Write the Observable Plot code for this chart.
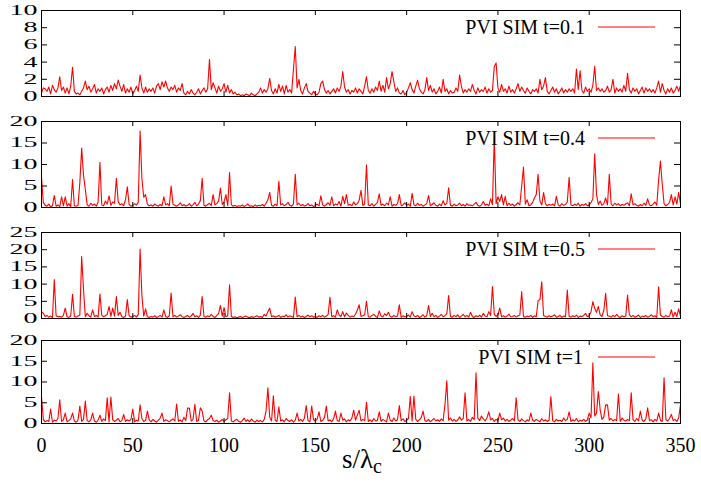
<!DOCTYPE html>
<html><head><meta charset="utf-8">
<script src="https://cdn.jsdelivr.net/npm/d3@7"></script>
<script src="https://cdn.jsdelivr.net/npm/@observablehq/plot@0.6"></script>
<style>
html,body{margin:0;padding:0;background:#fff;}
#chart{position:relative;width:701px;height:483px;overflow:hidden;background:#fff;}
#chart svg{position:absolute;left:0;}
</style></head><body><div id="chart"></div>
<script>
const xTicks = [0, 50, 100, 150, 200, 250, 300, 350];
const seriesLabels = ["PVI SIM t=0.1", "PVI SIM t=0.4", "PVI SIM t=0.5", "PVI SIM t=1"];
const yTicks1 = [0, 2, 4, 6, 8, 10];
const yTicks2 = [0, 5, 10, 15, 20];
const yTicks3 = [0, 5, 10, 15, 20, 25];
const yTicks4 = [0, 5, 10, 15, 20];

const pviT01 = [
0.4,1.0,0.9,0.6,1.1,0.3,1.3,0.8,0.5,1.0,
2.3,0.7,1.1,0.4,1.0,0.3,1.2,3.4,0.6,0.3,
0.4,0.2,0.6,1.0,1.8,0.8,1.2,0.5,0.9,1.4,
0.4,0.9,0.6,1.0,0.3,0.8,1.1,0.5,1.3,0.7,
1.5,0.9,1.9,1.2,0.6,1.4,0.4,0.9,0.5,1.1,
0.3,0.7,1.2,0.6,2.5,1.0,0.4,1.1,0.5,0.9,
0.6,1.0,0.4,1.2,1.5,0.8,1.7,1.1,1.8,1.0,
0.6,1.1,0.8,1.3,0.5,1.0,0.7,1.5,0.4,0.2,
0.6,0.3,0.8,0.4,0.2,0.5,0.9,0.3,0.7,1.0,
0.5,0.9,4.3,0.8,1.6,1.0,0.4,1.2,0.6,0.9,
1.5,0.5,1.3,0.4,0.8,0.3,0.5,0.2,0.3,0.1,
0.2,0.1,0.3,0.2,0.1,0.4,0.2,0.1,0.3,0.5,
1.0,0.4,0.8,0.5,0.9,2.1,0.7,0.3,0.9,0.4,
1.4,0.6,1.2,0.3,1.3,0.5,0.8,0.4,3.2,5.8,
1.0,2.0,0.7,0.3,1.0,1.5,0.6,0.4,0.2,0.6,
0.3,0.2,0.5,1.5,1.8,0.8,0.4,0.7,0.3,0.6,
0.9,0.4,1.0,0.6,1.2,2.9,1.1,0.5,0.8,0.3,
0.7,0.5,1.0,0.4,0.9,0.6,0.3,1.2,2.3,0.7,
0.4,0.9,0.5,1.1,0.7,1.8,0.6,1.3,0.5,2.2,
0.9,1.5,2.9,1.7,0.6,1.0,0.4,0.3,0.7,0.2,
0.5,1.0,1.6,0.8,0.4,1.2,1.9,0.9,0.5,0.3,
0.8,2.2,0.7,1.3,0.5,0.9,0.3,0.6,1.1,0.4,
2.0,0.6,0.9,0.3,0.7,0.4,0.5,1.0,0.6,2.5,
1.2,0.4,0.8,0.5,0.9,0.6,1.4,0.7,0.3,1.0,
0.5,0.8,0.6,1.1,0.4,0.9,0.5,0.7,3.5,3.9,
1.0,0.5,1.4,0.6,0.9,0.4,1.2,0.5,0.8,0.4,
0.9,1.5,0.6,1.1,0.7,0.4,1.0,0.6,0.3,0.8,
0.6,0.9,0.4,2.0,0.8,1.2,2.2,0.6,0.3,0.7,
1.1,0.5,0.9,0.3,0.6,1.0,0.4,0.8,0.5,0.9,
0.6,0.9,0.4,3.2,0.8,3.0,0.7,0.4,1.1,0.6,
0.9,0.5,1.3,3.5,0.7,1.0,0.6,0.9,0.5,0.7,
1.2,0.5,0.8,2.0,0.4,1.0,0.6,0.9,0.5,1.3,
0.6,2.7,0.8,0.4,1.0,0.6,0.9,0.3,0.7,1.1,
0.4,1.0,0.6,0.9,0.5,0.8,0.4,1.0,1.8,0.5,
1.5,0.7,0.3,0.9,0.5,1.0,0.4,0.7,1.2,0.6,
1.3];

const pviT04 = [
7.0,1.2,0.5,0.3,0.8,0.2,0.4,2.8,0.3,0.6,
0.2,2.5,0.4,2.5,0.3,0.9,0.2,6.5,0.4,0.3,
0.5,5.8,13.8,7.6,4.2,0.6,0.3,1.0,0.5,0.8,
0.3,1.2,10.5,0.6,0.4,1.5,0.8,2.7,0.5,1.3,
1.0,6.8,1.4,0.6,0.9,0.4,1.8,4.8,0.7,0.3,
0.5,0.9,0.6,1.2,17.8,6.7,2.4,3.0,0.8,0.4,
0.6,0.3,0.8,0.5,0.3,0.7,0.4,2.5,0.6,0.9,
0.4,5.0,0.8,0.5,0.3,0.6,1.1,0.4,0.7,0.3,
0.5,0.9,0.3,0.6,1.2,0.4,0.8,1.6,6.8,0.5,
0.3,0.7,1.0,0.4,3.0,0.6,0.9,1.5,4.5,0.7,
1.3,3.0,0.4,8.1,0.6,0.3,0.5,0.2,0.4,0.3,
0.6,0.2,0.5,0.8,0.3,0.4,0.2,0.6,0.3,0.5,
0.4,0.7,0.3,1.0,1.8,3.5,0.5,0.3,0.8,0.4,
6.1,0.6,0.9,0.4,0.7,1.2,0.5,0.3,0.8,7.7,
0.6,1.0,0.4,0.7,0.3,0.5,0.9,0.4,0.6,0.2,
0.5,0.8,0.4,2.7,0.6,0.3,0.7,1.1,0.5,2.5,
0.4,0.8,0.6,1.4,0.3,2.6,0.9,3.0,0.5,0.7,
0.4,1.3,0.6,0.9,1.7,4.0,0.5,0.8,9.9,0.6,
0.4,0.9,0.3,0.7,1.2,3.2,0.5,0.8,0.4,1.0,
0.6,2.5,0.3,0.7,0.5,0.9,3.0,0.4,0.6,1.1,
0.5,0.8,0.3,3.3,0.6,0.4,1.0,0.5,0.7,0.3,
0.6,0.9,2.8,0.4,0.7,1.1,0.5,0.3,0.8,0.4,
1.6,0.6,0.9,4.6,0.5,0.3,0.8,0.4,0.6,1.0,
0.4,0.7,0.3,0.9,0.5,0.6,0.4,0.8,1.2,0.5,
0.3,0.6,1.4,0.5,0.8,0.4,2.0,0.7,16.3,0.9,
2.5,1.4,3.0,0.6,2.6,0.4,1.0,0.5,0.8,0.3,
0.7,1.1,0.6,5.0,9.4,0.8,1.8,0.4,0.6,1.2,
2.2,3.0,7.7,1.5,0.6,3.5,0.9,0.4,0.7,0.5,
0.8,0.4,2.6,0.6,0.3,0.9,0.5,0.7,1.3,7.0,
0.6,0.4,0.8,0.5,1.0,0.3,0.7,0.5,0.9,0.4,
0.6,1.2,2.0,12.5,3.0,0.7,1.5,0.5,0.9,2.2,
0.6,7.7,0.8,0.4,1.0,0.6,0.9,0.4,0.7,0.5,
0.8,1.1,0.4,3.2,0.6,0.9,0.5,0.3,0.7,0.4,
1.0,0.5,2.0,0.6,0.4,0.8,1.3,0.5,6.3,10.8,
5.4,0.9,0.4,0.7,1.2,3.0,0.6,2.5,0.8,3.5,
0.9];

const pviT05 = [
2.0,1.5,0.6,0.9,0.4,0.7,0.3,11.3,0.8,0.5,
0.6,0.4,0.9,3.0,0.5,0.3,0.8,7.0,0.6,0.4,
0.7,1.0,18.0,8.6,0.5,1.5,0.8,0.4,2.5,0.6,
0.9,0.4,7.1,1.0,0.5,0.8,1.2,3.5,0.6,3.0,
0.7,6.4,0.9,1.8,0.5,0.3,0.7,5.5,0.8,0.4,
0.6,0.9,0.4,1.2,20.2,6.5,0.7,2.8,0.5,0.3,
0.6,0.4,0.8,0.3,0.5,0.9,0.4,2.5,0.6,0.3,
0.8,7.4,0.5,0.9,0.4,0.7,1.1,0.5,0.3,0.6,
0.9,0.4,0.7,1.5,0.5,0.8,0.3,1.0,6.4,0.6,
0.4,0.8,0.5,1.2,0.6,0.3,0.9,1.4,3.8,0.7,
3.2,0.5,0.8,9.8,0.6,0.3,0.5,0.2,0.4,0.6,
0.3,0.5,0.7,0.4,0.2,0.6,0.3,0.5,0.8,0.4,
0.6,0.3,1.2,0.7,2.0,3.0,0.5,0.8,0.4,0.6,
0.9,0.3,0.7,0.5,1.1,0.4,0.8,0.6,0.3,6.2,
0.5,0.9,0.4,0.7,0.3,0.6,1.0,0.5,0.8,0.4,
0.6,0.3,0.8,0.5,0.9,0.4,0.7,1.2,6.2,0.5,
0.8,0.4,2.5,1.0,0.6,2.0,0.5,1.6,0.9,0.4,
0.7,0.5,1.3,2.4,4.0,0.6,0.8,1.1,5.0,0.5,
0.4,0.9,1.2,0.6,0.3,2.2,0.7,0.5,1.4,0.8,
1.8,0.6,0.4,0.9,0.5,0.7,4.0,0.3,0.8,0.5,
0.6,1.0,0.4,2.0,0.7,0.5,0.9,0.3,0.6,1.1,
0.4,0.8,3.8,0.6,1.5,0.5,0.9,0.3,0.7,1.2,
0.5,0.8,1.4,6.7,0.6,0.4,0.9,0.5,1.1,0.3,
0.7,1.2,0.5,0.9,0.4,1.8,0.6,0.3,0.8,0.5,
1.0,0.4,1.5,0.7,0.5,2.0,0.9,9.3,1.2,0.6,
1.1,3.0,0.5,0.8,0.4,0.7,1.3,0.5,0.6,0.9,
0.4,0.8,1.0,7.8,0.6,0.4,0.7,0.5,0.9,0.3,
0.8,0.5,5.2,5.5,10.7,0.9,0.6,0.4,0.8,0.5,
0.7,1.1,0.4,0.6,0.9,0.3,0.7,0.5,8.3,0.6,
0.4,0.8,0.5,1.0,0.3,0.7,0.6,0.9,1.5,0.5,
0.8,2.0,4.9,3.0,1.8,3.5,1.0,0.6,2.4,7.3,
0.8,0.7,0.4,0.9,0.5,1.2,0.6,0.3,0.8,0.5,
0.7,6.8,1.1,0.5,0.9,0.4,0.6,1.0,0.3,0.7,
0.5,0.9,0.4,0.6,1.1,0.5,0.8,0.3,9.2,1.0,
0.6,0.4,0.9,0.5,0.7,2.5,0.4,1.8,0.6,2.8,
0.7];

const pviT1 = [
6.5,1.0,0.4,0.7,0.5,3.5,0.3,0.8,0.6,1.2,
5.7,0.5,0.9,2.5,0.4,0.7,1.1,2.5,0.6,0.3,
0.8,4.2,0.5,1.0,5.4,0.7,0.4,0.9,2.5,0.6,
0.3,0.8,2.0,0.5,1.1,0.7,6.2,0.4,6.4,0.9,
0.5,0.8,1.2,0.4,0.7,2.2,0.5,0.9,0.6,1.0,
3.5,0.4,0.8,0.6,4.5,1.2,0.5,0.7,3.0,0.9,
0.4,1.0,0.6,0.3,0.8,1.3,2.5,0.5,0.9,0.7,
0.4,0.8,1.1,0.6,4.7,0.5,0.9,0.4,1.5,0.7,
3.7,3.7,0.6,1.0,4.6,0.5,0.8,3.8,3.0,0.6,
0.4,0.9,1.2,2.0,0.7,0.5,0.8,0.3,0.6,1.0,
0.5,0.9,1.2,7.4,0.6,0.4,0.8,1.0,0.5,0.3,
0.7,1.3,0.5,0.9,0.4,1.1,0.6,0.3,0.8,0.5,
0.7,0.4,1.0,3.0,8.6,1.5,0.6,6.7,0.8,0.5,
4.0,0.6,0.9,0.4,1.2,0.7,0.5,0.9,0.3,0.8,
2.5,0.6,1.0,0.5,1.3,4.3,0.7,0.4,4.2,0.9,
0.6,1.1,2.8,0.5,0.8,1.4,4.2,0.6,0.9,0.4,
1.2,3.0,0.7,0.5,2.5,0.8,1.1,0.4,0.9,0.6,
1.3,3.2,0.8,2.0,3.2,0.6,1.0,0.7,5.1,0.5,
0.9,0.4,1.2,0.6,0.8,2.8,0.5,1.0,0.7,0.4,
2.5,0.8,0.5,1.3,0.6,0.9,4.3,0.7,1.1,0.5,
0.8,1.2,6.5,0.6,6.6,1.0,0.5,0.9,1.4,3.0,
0.7,0.5,1.0,0.4,0.8,1.2,0.6,0.9,0.5,1.1,
0.7,4.6,10.3,0.8,1.3,0.6,1.0,0.5,0.9,1.6,
0.8,1.2,7.4,0.6,1.0,0.5,1.5,0.9,12.2,1.3,
0.7,1.8,1.1,0.6,1.4,2.8,0.9,1.2,0.5,1.0,
0.7,2.5,0.9,1.3,0.6,1.0,0.5,0.8,1.2,0.6,
6.2,0.9,0.5,1.1,0.7,0.4,0.9,0.6,2.5,0.8,
0.5,1.0,0.7,0.4,1.2,0.6,0.9,0.5,0.8,6.5,
0.7,0.4,1.0,0.6,0.8,0.5,1.3,0.7,1.0,2.8,
0.5,0.9,0.6,1.2,0.4,0.8,0.6,1.0,0.5,0.9,
2.5,1.4,14.6,1.8,2.5,7.7,3.3,1.0,1.6,4.5,
4.5,0.8,1.2,0.6,1.0,0.7,7.1,0.5,1.3,0.8,
0.6,1.0,0.7,7.4,0.9,0.5,1.2,0.6,3.0,0.8,
0.5,1.1,3.8,0.7,0.9,0.4,1.0,0.6,2.5,0.8,
0.5,11.0,0.9,0.6,1.2,2.2,0.7,1.0,0.5,1.4,
4.5];

const FONT = "'Liberation Serif','Times New Roman',Times,serif";
const W = 701, ML = 41, MR = 21, FW = W - ML - MR;

const panels = [
  {values: pviT01, yTicks: yTicks1, label: seriesLabels[0], top: 0,   frameH: 86, mb: 10, legendX: 585},
  {values: pviT04, yTicks: yTicks2, label: seriesLabels[1], top: 111, frameH: 86, mb: 10, legendX: 585},
  {values: pviT05, yTicks: yTicks3, label: seriesLabels[2], top: 222, frameH: 86, mb: 10, legendX: 585},
  {values: pviT1,  yTicks: yTicks4, label: seriesLabels[3], top: 330, frameH: 83, mb: 60, legendX: 583, last: true}
];

const chart = document.getElementById("chart");

panels.forEach(p => {
  const data = p.values.map((v, i) => ({s: i, v}));
  const yMax = p.yTicks[p.yTicks.length - 1];
  const mt = 10;
  const marks = [
    Plot.lineY(data, {x: "s", y: "v", stroke: "#ff0000", strokeWidth: 1.1}),
    Plot.tickY(p.yTicks, {y: d => d, insetRight: FW - 6, stroke: "black"}),
    Plot.tickY(p.yTicks, {y: d => d, insetLeft: FW - 6, stroke: "black"}),
    Plot.tickX(xTicks, {x: d => d, insetTop: p.frameH - 5, stroke: "black"}),
    Plot.tickX(xTicks, {x: d => d, insetBottom: p.frameH - 5, stroke: "black"}),
    Plot.axisY(p.yTicks, {tickSize: 0, tickPadding: 4, label: null, fontSize: 20}),
    Plot.frame({stroke: "black", strokeWidth: 1})
  ];
  if (p.last) marks.push(Plot.axisX(xTicks, {tickSize: 0, tickPadding: 14, label: null, fontSize: 20}));
  const svg = Plot.plot({
    width: W,
    height: mt + p.frameH + p.mb,
    marginLeft: ML, marginRight: MR, marginTop: mt, marginBottom: p.mb,
    x: {domain: [0, 350], label: null, ...(p.last ? {} : {axis: null})},
    y: {domain: [0, yMax], label: null},
    style: {fontFamily: FONT, fontSize: "20px", color: "black", background: "transparent"},
    marks
  });
  svg.style.top = p.top + "px";
  // y tick labels: wide & squat as in the reference
  svg.querySelectorAll('[aria-label="y-axis tick label"] text').forEach(t => {
    const tr = t.getAttribute("transform");
    if (tr) t.setAttribute("transform", tr + " scale(1.4,0.7)");
    else {
      const x = t.getAttribute("x") || 0, y = t.getAttribute("y") || 0;
      t.removeAttribute("x"); t.removeAttribute("y");
      t.setAttribute("transform", `translate(${x},${y}) scale(1.4,0.7)`);
    }
  });
  const sel = d3.select(svg);
  sel.append("text")
    .attr("x", p.legendX).attr("y", mt + 24)
    .attr("text-anchor", "end")
    .style("font-family", FONT).style("font-size", "20px").attr("fill", "black")
    .text(p.label);
  sel.append("line")
    .attr("x1", 598).attr("x2", 655).attr("y1", mt + 17).attr("y2", mt + 17)
    .attr("stroke", "#ff0000").attr("stroke-width", 1);
  if (p.last) {
    const t = sel.append("text")
      .attr("x", 342).attr("y", mt + p.frameH + 45)
      .attr("text-anchor", "start")
      .style("font-family", FONT).style("font-size", "27px").attr("fill", "black");
    t.append("tspan").text("s/λ");
    t.append("tspan").style("font-size", "20px").attr("dy", 5).text("c");
  }
  chart.appendChild(svg);
});
</script></body></html>
